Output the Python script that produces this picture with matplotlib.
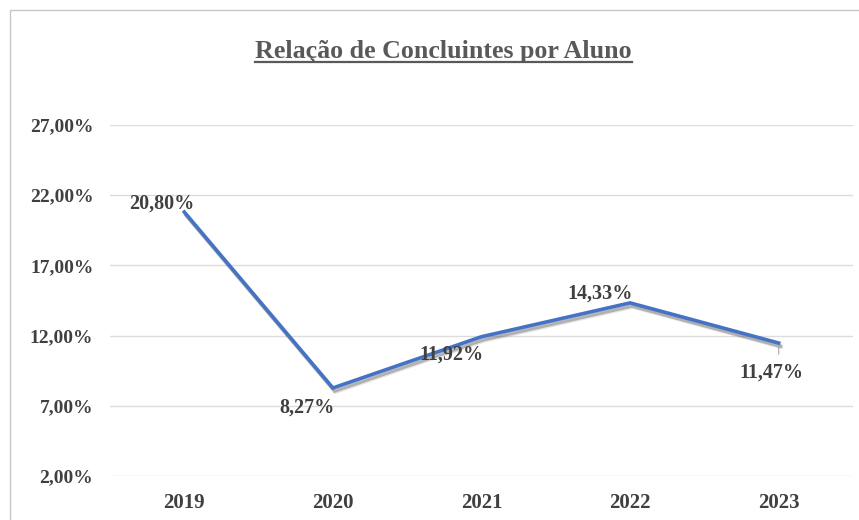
import matplotlib
matplotlib.use("Agg")
import matplotlib.pyplot as plt
import matplotlib.patheffects as pe
from matplotlib.patches import Rectangle

years = ["2019", "2020", "2021", "2022", "2023"]
values = [20.80, 8.27, 11.92, 14.33, 11.47]
labels = ["20,80%", "8,27%", "11,92%", "14,33%", "11,47%"]
yticks = [2, 7, 12, 17, 22, 27]
ytick_labels = ["2,00%", "7,00%", "12,00%", "17,00%", "22,00%", "27,00%"]
# label offsets in points (dx, dy)
label_offsets = [(-16.5, 6), (-19, -14), (-22, -13), (-21.5, 7), (-5, -21)]

W, H = 859, 520
fig = plt.figure(figsize=(W / 100, H / 100), dpi=100)
fig.patch.set_facecolor("white")

# chart border (cropped on right/bottom)
fig.patches.append(Rectangle((10 / W, -0.1), 1.2, 1 - 10 / H + 0.1,
                             transform=fig.transFigure, fill=False,
                             edgecolor="#c8c8c8", linewidth=1.0))

ax = fig.add_axes([110 / W, 1 - 476 / H, (853 - 110) / W, (476 - 125) / H])
ax.set_xlim(-0.5, 4.5)
ax.set_ylim(2, 27)

font = "Liberation Serif"
txt_color = "#404040"

ax.set_yticks(yticks)
ax.set_yticklabels(ytick_labels, fontfamily=font, fontweight="bold",
                   fontsize=14, color=txt_color)
ax.set_xticks(range(len(years)))
ax.set_xticklabels(years, fontfamily=font, fontweight="bold",
                   fontsize=15, color=txt_color)
ax.tick_params(axis="both", length=0)
ax.tick_params(axis="y", pad=12)
ax.tick_params(axis="x", pad=12)
for s in ax.spines.values():
    s.set_visible(False)
ax.grid(axis="y", color="#dcdcdc", linewidth=1.0)
ax.set_axisbelow(True)

x = list(range(len(years)))
ax.plot(x, values, color="#4472C4", linewidth=2.6, solid_joinstyle="miter",
        path_effects=[pe.SimpleLineShadow(offset=(1.2, -2.2), shadow_color="#404040", alpha=0.35, rho=0.3),
                      pe.SimpleLineShadow(offset=(1.8, -3.0), shadow_color="#808080", alpha=0.2, rho=0.3),
                      pe.Normal()])

for xi, v, lab, (dx, dy) in zip(x, values, labels, label_offsets):
    ax.annotate(lab, (xi, v), xytext=(dx, dy), textcoords="offset points",
                ha="center", va="center", fontfamily=font, fontweight="bold",
                fontsize=14.5, color=txt_color)

# leader line for last label
ax.annotate("", (4, values[4]), xytext=(0, -10), textcoords="offset points",
            arrowprops=dict(arrowstyle="-", color="#a6a6a6", lw=0.8))

fig.text((255 + 632) / 2 / W, 1 - 58 / H, "Relação de Concluintes por Aluno",
         ha="center", va="baseline", fontfamily=font, fontweight="bold",
         fontsize=18.7, color="#595959")
# underline
fig.add_artist(plt.Line2D([255 / W, 632 / W], [1 - 61.5 / H, 1 - 61.5 / H],
                          transform=fig.transFigure, color="#595959", linewidth=1.6))

fig.savefig("out.png", dpi=100, facecolor="white")
